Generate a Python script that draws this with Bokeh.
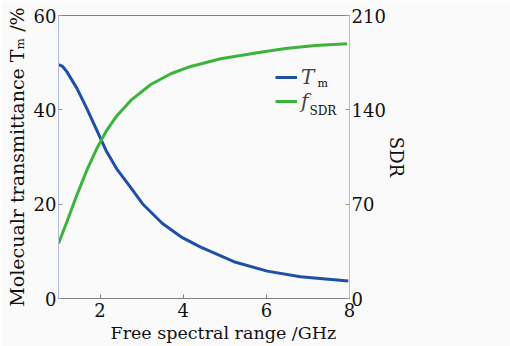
from bokeh.plotting import figure
from bokeh.models import Range1d, LinearAxis, FixedTicker, Legend, LegendItem, Label, Title
from bokeh.embed import file_html
from bokeh.resources import INLINE

# ---- data ----
fsr_tm = [1.0, 1.1, 1.2, 1.44, 1.68, 1.92, 2.16, 2.4, 2.73, 3.02, 3.5, 3.98, 4.42, 5.22, 6.02, 6.82, 7.97]
tm = [49.6, 49.2, 48.1, 44.6, 40.3, 35.7, 31.1, 27.5, 23.6, 20.1, 15.9, 12.9, 10.9, 7.8, 5.8, 4.6, 3.7]
fsr_sdr = [1.0, 1.2, 1.44, 1.68, 1.92, 2.16, 2.4, 2.74, 3.22, 3.7, 4.18, 4.9, 5.38, 5.86, 6.46, 7.18, 7.94]
sdr = [40.8, 56.8, 76.6, 95.1, 111.2, 124.8, 135.5, 147.0, 158.8, 166.8, 172.2, 177.9, 180.3, 182.8, 185.5, 187.8, 189.0]
x_ticks = [2, 4, 6, 8]
left_ticks = [0, 20, 40, 60]
right_ticks = [0, 70, 140, 210]

FONT = "DejaVu Serif"
BG = "#fafafa"
BLUE = "#1f4fa6"
GREEN = "#3bb43c"
TXT = "#111111"

p = figure(width=510, height=346, output_backend="svg", toolbar_location=None,
           x_range=Range1d(1, 8), y_range=Range1d(0, 60),
           min_border_left=58, min_border_right=161, min_border_top=15, min_border_bottom=48,
           background_fill_color=BG, border_fill_color=BG, outline_line_color="#808080")
p.extra_y_ranges = {"sdr": Range1d(0, 210)}
p.grid.visible = False

r1 = p.line(fsr_tm, tm, line_color=BLUE, line_width=3)
r2 = p.line(fsr_sdr, sdr, line_color=GREEN, line_width=3, y_range_name="sdr")

def style(ax, color, tick_color):
    ax.axis_line_color = color
    ax.major_tick_line_color = tick_color
    ax.major_tick_in = 4
    ax.major_tick_out = 0
    ax.minor_tick_line_color = None
    ax.major_label_text_font = FONT
    ax.major_label_text_font_size = "18px"
    ax.major_label_text_color = TXT
    ax.axis_label_text_font = FONT
    ax.axis_label_text_font_size = "18px"
    ax.axis_label_text_font_style = "normal"
    ax.axis_label_text_color = TXT
    ax.major_label_standoff = 2

xa = p.xaxis[0]
xa.ticker = FixedTicker(ticks=x_ticks)
style(xa, "#808080", "#808080")
xa.major_label_standoff = 4

ya = p.yaxis[0]
ya.ticker = FixedTicker(ticks=left_ticks)
ya.axis_label = "Molecualr transmittance Tₘ /%"
style(ya, "#b4bce2", "#8890c8")
ya.axis_label_text_font_size = "19px"
ya.axis_label_standoff = 3

ra = LinearAxis(y_range_name="sdr", ticker=FixedTicker(ticks=right_ticks), axis_label="SDR")
style(ra, "#a8cc9c", "#80b070")
ra.axis_label_standoff = -3
p.add_layout(ra, "right")

# x-axis title, offset to the right like the reference
p.add_layout(Title(text="Free spectral range /GHz", align="left", offset=52, standoff=3,
                   text_font=FONT, text_font_size="17.5px", text_font_style="normal",
                   text_color=TXT), "below")

legend = Legend(items=[LegendItem(label="T", renderers=[r1]), LegendItem(label="f", renderers=[r2])],
                location=(217, 185), background_fill_alpha=0, border_line_color=None,
                label_text_font=FONT, label_text_font_style="italic", label_text_font_size="20px",
                glyph_width=22, glyph_height=20, label_height=20, label_standoff=4,
                spacing=0, padding=2, margin=0)
p.add_layout(legend, "center")

p.add_layout(Label(x=259, y=209, x_units="screen", y_units="screen", text="m",
                   text_font=FONT, text_font_size="11px", text_color=TXT))
p.add_layout(Label(x=251, y=181, x_units="screen", y_units="screen", text="SDR",
                   text_font=FONT, text_font_size="12px", text_color=TXT))

open("out.html", "w").write(file_html(p, INLINE))
